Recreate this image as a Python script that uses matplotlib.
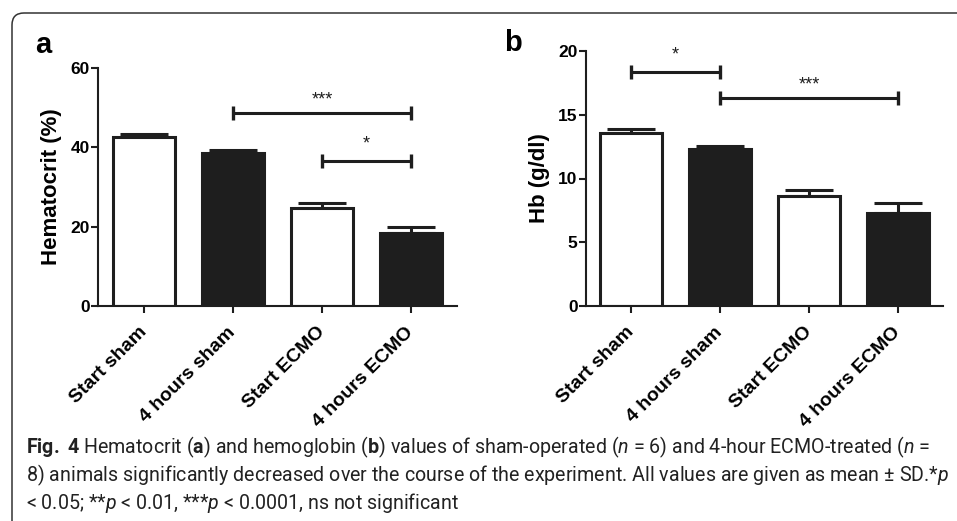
import matplotlib
matplotlib.use('Agg')
import matplotlib.pyplot as plt
from matplotlib.patches import FancyBboxPatch
import matplotlib.transforms as mtransforms

cap_font = 'Roboto'
chart_font = ['Liberation Sans', 'DejaVu Sans']
plt.rcParams['font.family'] = chart_font
plt.rcParams['mathtext.fontset'] = 'custom'
plt.rcParams['mathtext.rm'] = cap_font
plt.rcParams['mathtext.it'] = cap_font + ':italic'
plt.rcParams['mathtext.bf'] = cap_font + ':bold'

# data
categories = ['Start sham', '4 hours sham', 'Start ECMO', '4 hours ECMO']
hct_mean = [42.6, 38.6, 24.7, 18.4]
hct_sd = [0.8, 0.7, 1.3, 1.5]
hb_mean = [13.6, 12.3, 8.6, 7.3]
hb_sd = [0.3, 0.25, 0.5, 0.8]
# (from bar, to bar, height, label)
hct_sig = [(1, 3, 48.7, '***'), (2, 3, 36.6, '*')]
hb_sig = [(0, 1, 18.35, '*'), (1, 3, 16.3, '***')]

bar_colors = ['white', '#1e1e1e', 'white', '#1e1e1e']
ink = '#1e1e1e'

caption = [
    r"$\mathbf{Fig.}$ $\mathbf{4}$ Hematocrit ($\mathbf{a}$) and hemoglobin ($\mathbf{b}$) values of "
    r"sham-operated ($\mathit{n}$ = 6) and 4-hour ECMO-treated ($\mathit{n}$ =",
    r"8) animals significantly decreased over the course of the experiment. "
    r"All values are given as mean ± SD.*$\mathit{p}$",
    r"< 0.05; **$\mathit{p}$ < 0.01, ***$\mathit{p}$ < 0.0001, ns not significant",
]
caption_widths = [911, 922]  # pixel widths of the first two lines in the reference

W, H = 957, 521
fig = plt.figure(figsize=(W / 100, H / 100), dpi=100)


def px_axes(left, right, bottom, top):
    return fig.add_axes([left / W, 1 - bottom / H, (right - left) / W, (bottom - top) / H])


def panel(ax, means, sds, sig, ymax, ystep, ylabel, xlim):
    x = list(range(len(categories)))
    ax.bar(x, means, width=0.69, color=bar_colors, edgecolor=ink, linewidth=2.2, zorder=2)
    ax.errorbar(x, means, yerr=[[0] * len(sds), sds], fmt='none', ecolor=ink,
                elinewidth=2.2, capsize=17, capthick=2.2, zorder=1)
    for a, b, h, lab in sig:
        ax.plot([a, b], [h, h], color=ink, lw=2.2, solid_capstyle='butt', zorder=3)
        ax.plot([a, b], [h, h], ls='none', marker='|', markersize=10.5, mew=2.4, color=ink, zorder=3)
        # a lone star sits a little higher in the original
        lift = 9 if lab == '*' else 6
        ax.annotate(lab, xy=((a + b) / 2, h), xytext=(0, lift), textcoords='offset points',
                    ha='center', va='baseline', fontsize=13, color=ink, family=chart_font)
    ax.set_xlim(*xlim)
    ax.set_ylim(0, ymax)
    ax.set_yticks(range(0, ymax + 1, ystep))
    ax.set_xticks(x)
    ax.set_xticklabels(categories, rotation=45, ha='right', va='center',
                       rotation_mode='anchor', fontsize=14, fontweight='bold', family=chart_font)
    for lab in ax.get_xticklabels():
        lab.set_transform(lab.get_transform() + mtransforms.ScaledTranslation(10 / 100, 0, fig.dpi_scale_trans))
    ax.tick_params(axis='y', labelsize=12.5, width=1.5, length=5, pad=1, color=ink)
    ax.tick_params(axis='x', width=1.5, length=5, pad=12, color=ink)
    for lab in ax.get_yticklabels():
        lab.set_fontweight('bold')
        lab.set_family(chart_font)
    ax.set_ylabel(ylabel, fontsize=16, fontweight='bold', labelpad=6, family=chart_font)
    for s in ['top', 'right']:
        ax.spines[s].set_visible(False)
    for s in ['left', 'bottom']:
        ax.spines[s].set_linewidth(1.5)
        ax.spines[s].set_color(ink)
    ax.set_facecolor('none')


ax_a = px_axes(98, 457, 306, 68)
panel(ax_a, hct_mean, hct_sd, hct_sig, 60, 20, 'Hematocrit (%)', (-0.517, 3.517))
ax_b = px_axes(586, 943, 306, 51)
panel(ax_b, hb_mean, hb_sd, hb_sig, 20, 5, 'Hb (g/dl)', (-0.506, 3.506))

fig.text(43 / W, 1 - 45 / H, 'a', fontsize=21, fontweight='bold', ha='center', va='center', family=chart_font)
fig.text(513 / W, 1 - 43 / H, 'b', fontsize=21, fontweight='bold', ha='center', va='center', family=chart_font)

# rounded frame, open to the right and bottom
frame = FancyBboxPatch((0.12, -1.0), 12.0, 5.21 - 0.13 + 1.0,
                       boxstyle='round,pad=0,rounding_size=0.12',
                       transform=fig.dpi_scale_trans, fill=False,
                       edgecolor='#333333', linewidth=1.1)
fig.patches.append(frame)

# caption, size fitted so the first two lines keep the reference widths
renderer = fig.canvas.get_renderer()
cap_size = 20
for line, target in zip(caption, caption_widths):
    probe = fig.text(0, 0, line, fontsize=12, family=cap_font)
    w = probe.get_window_extent(renderer).width
    probe.remove()
    cap_size = min(cap_size, 12 * target / w)
for i, line in enumerate(caption):
    fig.text(26 / W, 1 - (453 + 28 * i) / H, line, fontsize=cap_size, family=cap_font,
             color='#222222', ha='left', va='baseline')

fig.savefig('out.png', dpi=100)
